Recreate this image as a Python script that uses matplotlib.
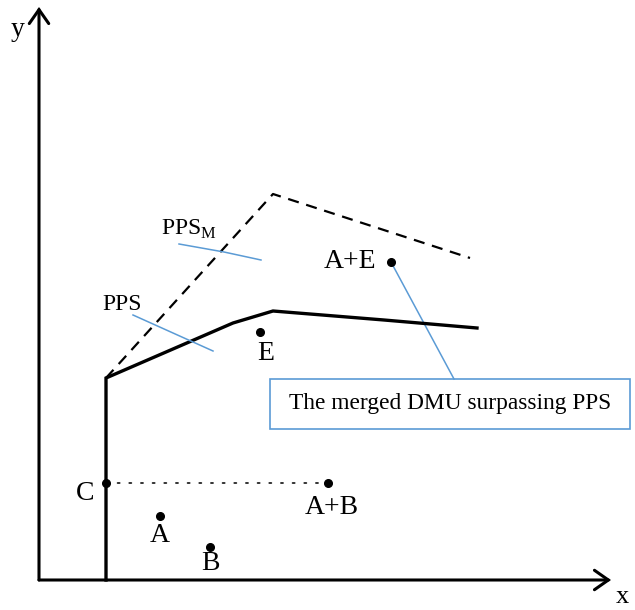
import matplotlib
matplotlib.use("Agg")
import matplotlib.pyplot as plt
from matplotlib.patches import FancyArrowPatch, Rectangle

plt.rcParams['font.family'] = ['Liberation Serif', 'DejaVu Serif']
plt.rcParams['mathtext.fontset'] = 'custom'
plt.rcParams['mathtext.rm'] = 'Liberation Serif'

# frontier PPS (solid) and PPS_M (dashed), units: origin at axes corner
pps_x = [6.7, 6.7, 19.4, 23.4, 34.5, 43.8]
pps_y = [0.0, 20.2, 25.7, 26.9, 26.0, 25.2]
ppsm_x = [6.7, 23.4, 43.1]
ppsm_y = [20.2, 38.6, 32.2]

# DMU points
dmu_names = ['C', 'A+B', 'A', 'B', 'E', 'A+E']
dmu_x = [6.7, 28.9, 12.1, 17.1, 22.1, 35.2]
dmu_y = [9.7, 9.7, 6.4, 3.3, 24.8, 31.8]
# label offsets from each point
lab_dx = [-2.1, 0.4, 0.0, 0.0, 0.6, -4.1]
lab_dy = [-1.0, -2.4, -1.9, -1.7, -2.2, 0.0]

fig = plt.figure(figsize=(6.35, 6.10), dpi=100)
ax = fig.add_axes([0, 0, 1, 1])
ax.set_xlim(-3.9, 59.6)
ax.set_ylim(-3.0, 58.0)
ax.axis('off')

# axes with open arrowheads
for (x0, y0, x1, y1) in [(0, 0, 0, 57.3), (0, 0, 57.2, 0)]:
    ax.add_patch(FancyArrowPatch((x0, y0), (x1, y1),
                                 arrowstyle='->,head_length=0.5,head_width=0.35',
                                 mutation_scale=20, lw=2.2, color='black',
                                 shrinkA=0, shrinkB=0, joinstyle='miter'))
ax.text(-2.1, 55.0, 'y', fontsize=20, ha='center', va='center')
ax.text(58.3, -1.7, 'x', fontsize=19, ha='center', va='center')

ax.plot(pps_x, pps_y, color='black', lw=2.4, solid_joinstyle='miter')
ax.plot(ppsm_x, ppsm_y, color='black', lw=1.6, linestyle=(0, (5, 3.5)))

# dotted line from C to A+B
ax.plot([dmu_x[0], dmu_x[1]], [dmu_y[0], dmu_y[1]], color='#333333',
        lw=1.4, linestyle=(0, (1, 5)), dash_capstyle='round')

blue = '#5b9bd5'
# PPS_M and PPS labels with leader lines
ax.text(15.0, 35.1, r'$\mathrm{PPS}_{\mathrm{M}}$', fontsize=17, ha='center', va='center')
ax.plot([14.0, 18.5, 22.2], [33.6, 32.8, 32.0], color=blue, lw=1.1)
ax.text(8.3, 27.5, 'PPS', fontsize=17, ha='center', va='center')
ax.plot([9.4, 17.4], [26.5, 22.9], color=blue, lw=1.1)

# callout box
ax.add_patch(Rectangle((23.1, 15.1), 36.0, 5.0, fill=False, edgecolor=blue, lw=1.2))
ax.text(41.1, 17.6, 'The merged DMU surpassing PPS', fontsize=16.8, ha='center', va='center')
ax.plot([dmu_x[5], 41.5], [dmu_y[5], 20.1], color=blue, lw=1.1, zorder=1)

ax.plot(dmu_x, dmu_y, 'o', color='black', ms=5.5, zorder=3)
for name, x, y, dx, dy in zip(dmu_names, dmu_x, dmu_y, lab_dx, lab_dy):
    ax.text(x + dx, y + dy, name, fontsize=20, ha='center', va='center')

fig.savefig('out.png', dpi=100)
